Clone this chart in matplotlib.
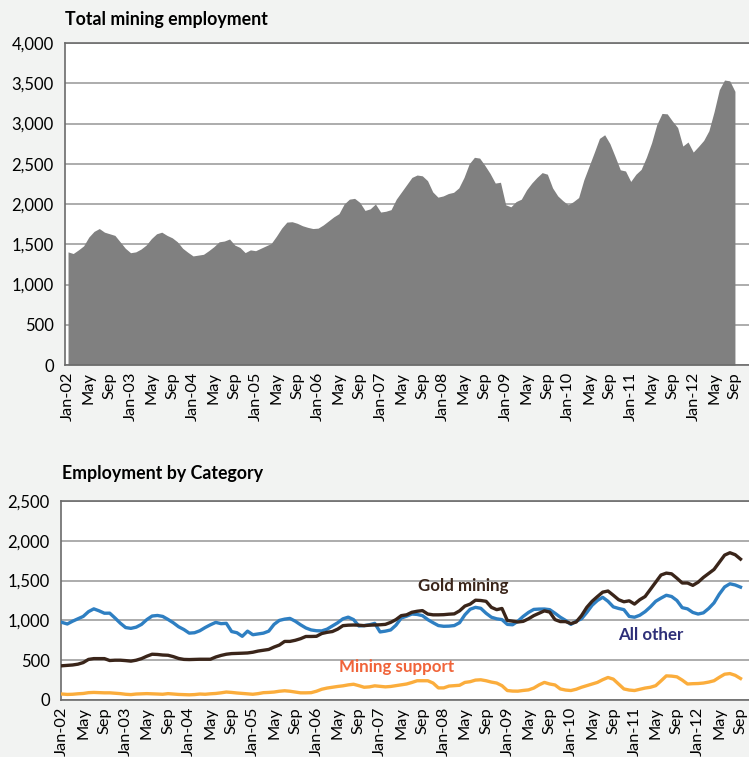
import matplotlib
matplotlib.use("Agg")
import matplotlib.pyplot as plt
import numpy as np

# ==================== 数据 (monthly, Jan-02 .. Sep-12) ====================
total_mining = [
    1405, 1385, 1430, 1480, 1590, 1660, 1695, 1650, 1630, 1610, 1530, 1450,
    1395, 1405, 1440, 1490, 1570, 1630, 1650, 1610, 1580, 1530, 1450, 1400,
    1355, 1365, 1375, 1420, 1470, 1530, 1540, 1565, 1490, 1460, 1396, 1430,
    1420, 1450, 1480, 1510, 1600, 1700, 1775, 1780, 1760, 1730, 1710, 1695,
    1700, 1740, 1790, 1840, 1880, 2000, 2060, 2070, 2020, 1920, 1940, 2000,
    1900, 1910, 1930, 2060, 2150, 2240, 2330, 2360, 2350, 2290, 2150, 2085,
    2100, 2130, 2145, 2200, 2330, 2500, 2580, 2570, 2480, 2380, 2260, 2270,
    1990, 1965, 2030, 2060, 2175, 2260, 2330, 2390, 2370, 2200, 2100, 2040,
    1990, 2030, 2080, 2300, 2470, 2640, 2815, 2860, 2750, 2590, 2425, 2410,
    2280, 2370, 2430, 2580, 2760, 2987, 3125, 3120, 3030, 2950, 2720, 2770,
    2645, 2715, 2790, 2910, 3147, 3420, 3540, 3530, 3400,
]

gold_mining = [
    430, 435, 440, 450, 470, 510, 520, 520, 520, 496, 500, 500,
    495, 488, 500, 520, 550, 575, 572, 565, 562, 545, 522, 510,
    508, 510, 512, 512, 512, 540, 560, 575, 583, 585, 588, 591,
    600, 615, 625, 635, 665, 690, 736, 736, 750, 770, 798, 798,
    800, 835, 850, 860, 890, 934, 940, 942, 940, 934, 940, 942,
    945, 950, 975, 1010, 1060, 1070, 1102, 1115, 1123, 1080, 1070, 1070,
    1072, 1078, 1082, 1120, 1180, 1205, 1254, 1250, 1240, 1164, 1135, 1150,
    1000, 990, 980, 988, 1020, 1060, 1090, 1120, 1105, 1010, 985, 985,
    960, 980, 1060, 1164, 1240, 1299, 1355, 1369, 1316, 1260, 1234, 1246,
    1205, 1260, 1300, 1390, 1480, 1570, 1594, 1585, 1530, 1470, 1470, 1440,
    1480, 1540, 1590, 1640, 1730, 1820, 1850, 1825, 1770,
]

all_other = [
    975, 955, 990, 1020, 1050, 1110, 1145, 1120, 1090, 1091, 1030, 965,
    910, 900, 915, 950, 1010, 1055, 1062, 1050, 1012, 970, 920, 885,
    840, 845, 870, 910, 945, 975, 959, 963, 860, 845, 800, 865,
    820, 830, 840, 865, 950, 1000, 1016, 1025, 990, 945, 905, 880,
    870, 868, 890, 930, 970, 1020, 1041, 1010, 930, 935, 945, 963,
    855, 865, 880, 940, 1030, 1053, 1080, 1075, 1060, 1010, 971, 935,
    926, 928, 935, 971, 1070, 1140, 1164, 1152, 1090, 1040, 1020, 1010,
    950, 945, 990, 1050, 1100, 1138, 1142, 1143, 1135, 1090, 1040, 1000,
    950, 990, 1020, 1100, 1190, 1250, 1290, 1240, 1170, 1150, 1135, 1050,
    1040, 1065, 1110, 1170, 1240, 1280, 1316, 1300, 1250, 1160, 1145, 1100,
    1080, 1095, 1150, 1220, 1330, 1420, 1460, 1445, 1418,
]

mining_support = [
    75, 70, 72, 78, 82, 92, 95, 92, 90, 90, 85, 80,
    72, 68, 75, 78, 80, 78, 75, 72, 80, 75, 70, 68,
    65, 68, 75, 72, 78, 82, 90, 100, 95, 88, 83, 78,
    72, 80, 92, 95, 100, 110, 116, 110, 100, 90, 90, 92,
    110, 135, 150, 160, 170, 178, 190, 198, 180, 160, 165, 178,
    172, 165, 170, 180, 190, 201, 220, 242, 242, 242, 213, 152,
    152, 175, 180, 185, 221, 230, 250, 254, 242, 225, 213, 180,
    119, 112, 111, 120, 127, 150, 190, 221, 201, 189, 139, 125,
    119, 135, 160, 180, 200, 221, 255, 283, 262, 201, 139, 125,
    119, 135, 150, 160, 180, 240, 303, 300, 291, 250, 201, 205,
    207, 213, 225, 242, 285, 324, 332, 310, 270,
]

tick_labels = [
    "Jan-02", "May", "Sep", "Jan-03", "May", "Sep", "Jan-04", "May", "Sep",
    "Jan-05", "May", "Sep", "Jan-06", "May", "Sep", "Jan-07", "May", "Sep",
    "Jan-08", "May", "Sep", "Jan-09", "May", "Sep", "Jan-10", "May", "Sep",
    "Jan-11", "May", "Sep", "Jan-12", "May", "Sep",
]

top_yticks = [0, 500, 1000, 1500, 2000, 2500, 3000, 3500, 4000]
bottom_yticks = [0, 500, 1000, 1500, 2000, 2500]

# ==================== 样式 ====================
plt.rcParams["font.family"] = ["Lato", "DejaVu Sans"]
BG = "#f2f3f2"
GRID = "#a6a6a6"
SPINE = "#6b6b6b"

months = np.arange(len(total_mining))
tick_pos = months[::4]

W, H = 749, 757
fig = plt.figure(figsize=(W / 100, H / 100), dpi=100, facecolor=BG)

ax1 = fig.add_axes([65 / W, 1 - 365 / H, (W - 65) / W, (365 - 43) / H])
ax2 = fig.add_axes([61 / W, 1 - 700 / H, (W - 61) / W, (700 - 501) / H])


def style_axes(ax, yticks):
    ax.set_facecolor("white")
    ax.set_yticks(yticks)
    ax.set_yticklabels([f"{v:,}" for v in yticks], fontsize=12)
    ax.set_ylim(yticks[0], yticks[-1])
    ax.set_xticks(tick_pos)
    ax.set_xticklabels(tick_labels, rotation=90, fontsize=11.8)
    ax.tick_params(axis="both", length=0, colors="black")
    ax.tick_params(axis="y", pad=8)
    ax.tick_params(axis="x", pad=5)
    ax.grid(axis="y", color=GRID, linewidth=1.3)
    ax.set_axisbelow(True)
    ax.spines["right"].set_visible(False)
    for s in ["top", "left", "bottom"]:
        ax.spines[s].set_color(SPINE)
        ax.spines[s].set_linewidth(1.2)


# ==================== 上图: Total mining employment ====================
style_axes(ax1, top_yticks)
ax1.set_xlim(-0.58, 130.7)
ax1.fill_between(months, total_mining, 0, color="#808080", linewidth=0, zorder=2)
fig.text(65 / W, 1 - 19 / H, "Total mining employment", fontsize=12.8,
         fontweight="bold", va="center", ha="left")

# ==================== 下图: Employment by Category ====================
style_axes(ax2, bottom_yticks)
ax2.set_xlim(-0.19, 129.6)
ax2.plot(months, mining_support, color="#fbad3c", linewidth=2.4, zorder=3)
ax2.plot(months, all_other, color="#2e7fc2", linewidth=2.4, zorder=3)
ax2.plot(months, gold_mining, color="#3a251a", linewidth=2.4, zorder=4)

ax2.text(75.7, 1432, "Gold mining", color="#3a251a", fontsize=12.2,
         fontweight="bold", ha="center", va="center")
ax2.text(111.0, 816, "All other", color="#2e2f78", fontsize=12.2,
         fontweight="bold", ha="center", va="center")
ax2.text(63.2, 415, "Mining support", color="#f0643a", fontsize=12.2,
         fontweight="bold", ha="center", va="center")
fig.text(62 / W, 1 - 473 / H, "Employment by Category", fontsize=12.8,
         fontweight="bold", va="center", ha="left")

fig.savefig("out.png", dpi=100, facecolor=BG)
